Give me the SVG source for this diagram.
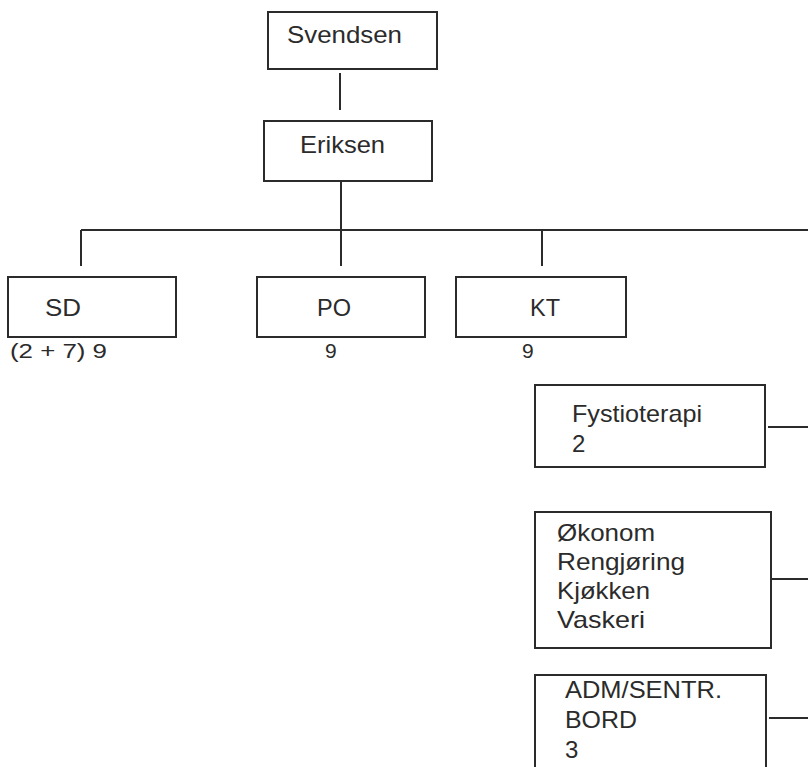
<svg xmlns="http://www.w3.org/2000/svg" width="808" height="767" viewBox="0 0 808 767">
  <style>
    .box { fill: #ffffff; stroke: #2b2b2b; stroke-width: 2; }
    .wire { fill: none; stroke: #2b2b2b; stroke-width: 2; }
    text { font-family: "Liberation Sans", Arial, sans-serif; font-size: 24px; fill: #2b2b2b; }
    .sm { font-size: 21px; }
  </style>
  <rect width="808" height="767" fill="#ffffff"/>

  <!-- connectors -->
  <g id="connectors">
    <path class="wire" d="M340 73 V110"/>
    <path class="wire" d="M341 181 V266"/>
    <path class="wire" d="M81 230 H808"/>
    <path class="wire" d="M81 230 V266"/>
    <path class="wire" d="M542 230 V266"/>
    <path class="wire" d="M768 427 H808"/>
    <path class="wire" d="M771 579 H808"/>
    <path class="wire" d="M769 718 H808"/>
  </g>

  <g id="svendsen">
    <rect class="box" x="268" y="12" width="169" height="57"/>
    <text x="287" y="43" textLength="115" lengthAdjust="spacingAndGlyphs">Svendsen</text>
  </g>

  <g id="eriksen">
    <rect class="box" x="264" y="121" width="168" height="60"/>
    <text x="300" y="153" textLength="85" lengthAdjust="spacingAndGlyphs">Eriksen</text>
  </g>

  <g id="sd">
    <rect class="box" x="8" y="277" width="168" height="60"/>
    <text x="45" y="316" textLength="36" lengthAdjust="spacingAndGlyphs">SD</text>
    <text class="sm" x="10" y="358" textLength="97" lengthAdjust="spacingAndGlyphs">(2 + 7) 9</text>
  </g>

  <g id="po">
    <rect class="box" x="257" y="277" width="168" height="60"/>
    <text x="317" y="316" textLength="34" lengthAdjust="spacingAndGlyphs">PO</text>
    <text class="sm" x="325" y="358">9</text>
  </g>

  <g id="kt">
    <rect class="box" x="456" y="277" width="170" height="60"/>
    <text x="530" y="316" textLength="30" lengthAdjust="spacingAndGlyphs">KT</text>
    <text class="sm" x="522" y="358">9</text>
  </g>

  <g id="fysioterapi">
    <rect class="box" x="535" y="385" width="230" height="82"/>
    <text x="572" y="422" textLength="130" lengthAdjust="spacingAndGlyphs">Fystioterapi</text>
    <text x="572" y="452">2</text>
  </g>

  <g id="okonom">
    <rect class="box" x="535" y="512" width="236" height="136"/>
    <text x="557" y="541" textLength="98" lengthAdjust="spacingAndGlyphs">Økonom</text>
    <text x="557" y="570" textLength="128" lengthAdjust="spacingAndGlyphs">Rengjøring</text>
    <text x="557" y="599" textLength="93" lengthAdjust="spacingAndGlyphs">Kjøkken</text>
    <text x="557" y="628" textLength="88" lengthAdjust="spacingAndGlyphs">Vaskeri</text>
  </g>

  <g id="adm">
    <rect class="box" x="535" y="675" width="231" height="110"/>
    <text x="565" y="698" textLength="157" lengthAdjust="spacingAndGlyphs">ADM/SENTR.</text>
    <text x="565" y="728" textLength="72" lengthAdjust="spacingAndGlyphs">BORD</text>
    <text x="565" y="758">3</text>
  </g>
</svg>
